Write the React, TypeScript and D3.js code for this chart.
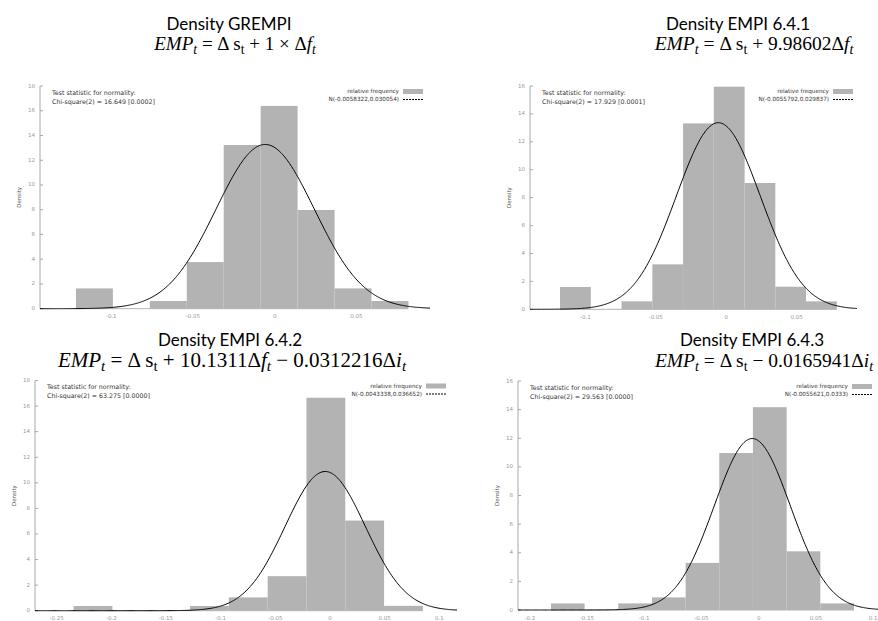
import React from "react";
import { scaleLinear, line, range } from "d3";

// histogram bin edges (x) and densities
const grempiEdges = [-0.1216, -0.099, -0.0764, -0.0538, -0.0312, -0.0086, 0.014, 0.0366, 0.0592, 0.0818];
const grempiDensity = [1.64, 0, 0.62, 3.77, 13.23, 16.39, 7.98, 1.64, 0.62];

const empi641Edges = [-0.118, -0.0961, -0.0743, -0.0524, -0.0306, -0.0088, 0.0131, 0.0349, 0.0567, 0.0786];
const empi641Density = [1.6, 0, 0.57, 3.22, 13.32, 15.95, 9.05, 1.62, 0.57];

const empi642Edges = [-0.2345, -0.199, -0.1635, -0.128, -0.0925, -0.057, -0.0215, 0.014, 0.0495, 0.085];
const empi642Density = [0.37, 0, 0, 0.37, 1.04, 2.7, 16.65, 7.05, 0.38];

const empi643Edges = [-0.1815, -0.1521, -0.1227, -0.0932, -0.0638, -0.0344, -0.005, 0.0245, 0.0539, 0.0833];
const empi643Density = [0.46, 0, 0.46, 0.88, 3.29, 10.97, 14.17, 4.1, 0.46];

const normMeans = [-0.0058322, -0.0055792, -0.0043338, -0.0055621];
const normSds = [0.030054, 0.029837, 0.036652, 0.0333];
const chiStats = [
  "Chi-square(2) = 16.649 [0.0002]",
  "Chi-square(2) = 17.929 [0.0001]",
  "Chi-square(2) = 63.275 [0.0000]",
  "Chi-square(2) = 29.563 [0.0000]",
];
const titles = ["Density GREMPI", "Density EMPI 6.4.1", "Density EMPI 6.4.2", "Density EMPI 6.4.3"];

const yTicks18 = [0, 2, 4, 6, 8, 10, 12, 14, 16, 18];
const yTicks16 = [0, 2, 4, 6, 8, 10, 12, 14, 16];
const xTicksA = [-0.1, -0.05, 0, 0.05];
const xTicksB = [-0.25, -0.2, -0.15, -0.1, -0.05, 0, 0.05, 0.1];
const xTicksC = [-0.2, -0.15, -0.1, -0.05, 0, 0.05, 0.1];

// equation pieces: [text, style]  i = italic, s = subscript
const eq1 = [["EMP", "i"], ["t", "is"], [" = Δ s", ""], ["t", "s"], [" + 1 × Δ", ""], ["f", "i"], ["t", "is"]];
const eq2 = [["EMP", "i"], ["t", "is"], [" = Δ s", ""], ["t", "s"], [" + 9.98602Δ", ""], ["f", "i"], ["t", "is"]];
const eq3 = [["EMP", "i"], ["t", "is"], [" = Δ s", ""], ["t", "s"], [" + 10.1311Δ", ""], ["f", "i"], ["t", "is"], [" − 0.0312216Δ", ""], ["i", "i"], ["t", "is"]];
const eq4 = [["EMP", "i"], ["t", "is"], [" = Δ s", ""], ["t", "s"], [" − 0.0165941Δ", ""], ["i", "i"], ["t", "is"]];

const panels = [
  { edges: grempiEdges, dens: grempiDensity, eq: eq1, xTicks: xTicksA, yTicks: yTicks18, efs: 19,
    x0: 40, x1: 430, dom: [-0.1436, 0.095], yb: 308.7, yt: 86, tx: 229, ty: 30, ex: 235, ey: 50, legR: 399 },
  { edges: empi641Edges, dens: empi641Density, eq: eq2, xTicks: xTicksA, yTicks: yTicks16, efs: 19.5,
    x0: 530, x1: 857, dom: [-0.1393, 0.0929], yb: 309.3, yt: 86, tx: 738, ty: 30, ex: 754, ey: 50, legR: 829 },
  { edges: empi642Edges, dens: empi642Density, eq: eq3, xTicks: xTicksB, yTicks: yTicks18, efs: 21,
    x0: 35, x1: 457, dom: [-0.2698, 0.1162], yb: 610.7, yt: 380.5, tx: 230, ty: 346, ex: 232, ey: 367, legR: 422 },
  { edges: empi643Edges, dens: empi643Density, eq: eq4, xTicks: xTicksC, yTicks: yTicks16, efs: 19.5,
    x0: 518, x1: 878, dom: [-0.2103, 0.1043], yb: 610, yt: 381, tx: 752, ty: 346, ex: 764, ey: 367, legR: 848 },
];

const SMALL = "DejaVu Sans";

const Equation = ({ segs, x, y, fs }) => {
  let sub = false;
  const subFs = fs * 0.72;
  return (
    <text x={x} y={y} textAnchor="middle" fontFamily="Liberation Serif" fontSize={fs} fill="#000">
      {segs.map(([t, st], k) => {
        const isSub = st.includes("s");
        const dy = isSub && !sub ? 4 : !isSub && sub ? -4 : 0;
        sub = isSub;
        return (
          <tspan key={k} dy={dy} fontStyle={st.includes("i") ? "italic" : "normal"} fontSize={isSub ? subFs : fs}>
            {t}
          </tspan>
        );
      })}
    </text>
  );
};

const Panel = ({ p, idx }) => {
  const x = scaleLinear().domain(p.dom).range([p.x0, p.x1]);
  const ymax = p.yTicks[p.yTicks.length - 1];
  const y = scaleLinear().domain([0, ymax]).range([p.yb, p.yt]);
  const mu = normMeans[idx];
  const sd = normSds[idx];
  const pdf = (v) => Math.exp(-0.5 * ((v - mu) / sd) ** 2) / (sd * Math.sqrt(2 * Math.PI));
  const pts = range(p.dom[0], p.dom[1], (p.dom[1] - p.dom[0]) / 400).concat([p.dom[1]]);
  const curve = line().x((v) => x(v)).y((v) => y(pdf(v)))(pts);
  const bins = p.dens.map((d, i) => ({ a: p.edges[i], b: p.edges[i + 1], d }));
  const top = p.yt;

  return (
    <g>
      <text x={p.tx} y={p.ty} textAnchor="middle" fontFamily="Lato" fontSize={17} fill="#000">
        {titles[idx]}
      </text>
      <Equation segs={p.eq} x={p.ex} y={p.ey} fs={p.efs} />

      {/* bars */}
      {bins.map((b, i) => (
        <rect key={i} x={x(b.a)} y={y(b.d)} width={x(b.b) - x(b.a)} height={y(0) - y(b.d)} fill="#b3b3b3" />
      ))}
      <line x1={x(p.edges[0])} x2={x(p.edges[p.edges.length - 1])} y1={y(0)} y2={y(0)} stroke="#b3b3b3" strokeWidth={1} />

      {/* y axis */}
      <line x1={p.x0} x2={p.x0} y1={y(0)} y2={y(ymax)} stroke="#a8a8a8" strokeWidth={1} />
      {p.yTicks.map((t) => (
        <g key={t}>
          <line x1={p.x0} x2={p.x0 + 3} y1={y(t)} y2={y(t)} stroke="#a8a8a8" strokeWidth={1} />
          <text x={p.x0 - 5} y={y(t)} textAnchor="end" dominantBaseline="middle" fontFamily={SMALL} fontSize={5.5} fill="#999">
            {t}
          </text>
        </g>
      ))}
      {p.xTicks.map((t) => (
        <text key={t} x={x(t)} y={y(0) + 8} textAnchor="middle" dominantBaseline="middle" fontFamily={SMALL} fontSize={5.5} fill="#999">
          {String(t)}
        </text>
      ))}
      <text
        transform={`translate(${p.x0 - 21},${(y(0) + y(ymax)) / 2}) rotate(-90)`}
        textAnchor="middle"
        dominantBaseline="middle"
        fontFamily={SMALL}
        fontSize={5.5}
        fill="#555"
      >
        Density
      </text>

      {/* normal curve */}
      <path d={curve} fill="none" stroke="#000" strokeWidth={1} />

      {/* normality test */}
      <text x={p.x0 + 12} y={top + 7} dominantBaseline="middle" fontFamily={SMALL} fontSize={6.3} fill="#333">
        Test statistic for normality:
      </text>
      <text x={p.x0 + 12} y={top + 16} dominantBaseline="middle" fontFamily={SMALL} fontSize={6.3} fill="#333">
        {chiStats[idx]}
      </text>

      {/* legend */}
      <text x={p.legR} y={top + 5.5} textAnchor="end" dominantBaseline="middle" fontFamily={SMALL} fontSize={5.7} fill="#333">
        relative frequency
      </text>
      <rect x={p.legR + 4} y={top + 3} width={20} height={5} fill="#b3b3b3" />
      <text x={p.legR} y={top + 13.5} textAnchor="end" dominantBaseline="middle" fontFamily={SMALL} fontSize={5.7} fill="#333">
        {`N(${mu},${sd})`}
      </text>
      <line x1={p.legR + 4} x2={p.legR + 24} y1={top + 13.5} y2={top + 13.5} stroke="#000" strokeWidth={1} strokeDasharray="2,1" />
    </g>
  );
};

export default function App() {
  return (
    <div style={{ position: "fixed", left: 0, top: 0, width: 878, height: 621, background: "#fff" }}>
      <svg width={878} height={621} style={{ display: "block" }}>
        <rect width={878} height={621} fill="#fff" />
        {panels.map((p, i) => (
          <Panel key={i} p={p} idx={i} />
        ))}
      </svg>
    </div>
  );
}
